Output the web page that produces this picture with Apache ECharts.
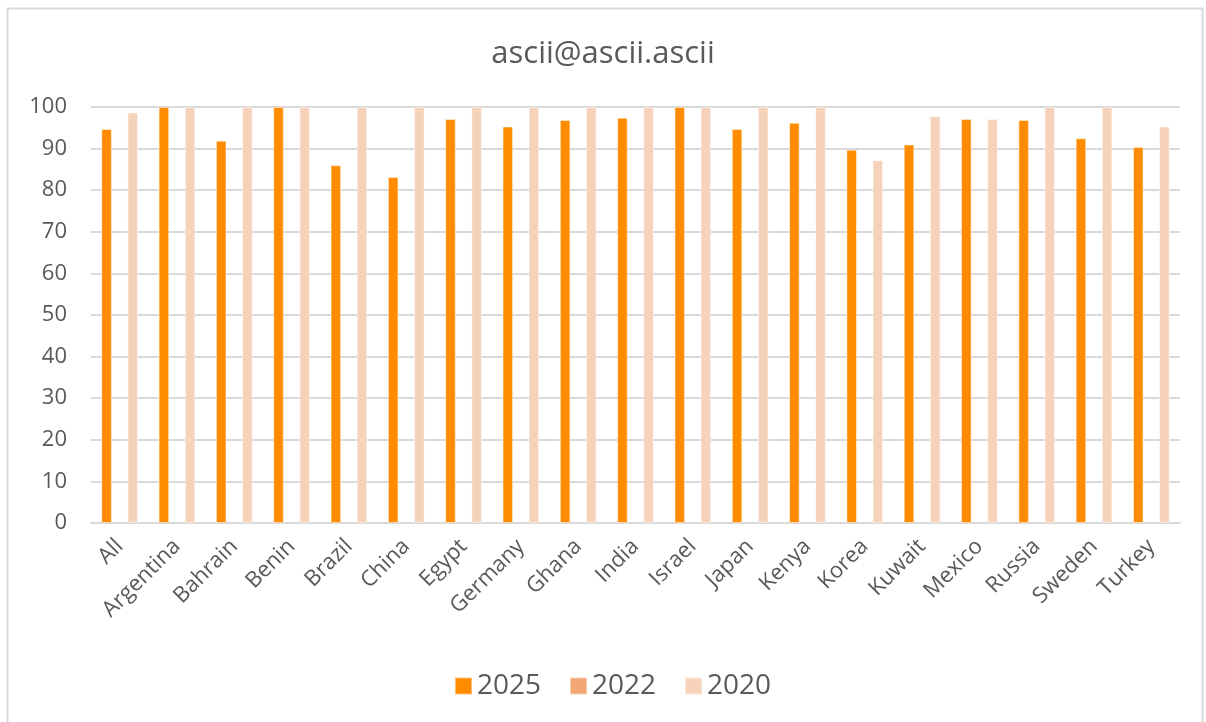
<!DOCTYPE html>
<html>
<head>
<meta charset="utf-8">
<script src="https://cdn.jsdelivr.net/npm/echarts@6/dist/echarts.min.js"></script>
<style>
  html, body { margin: 0; padding: 0; background: #fff; }
  #chart { width: 1206px; height: 722px; }
</style>
</head>
<body>
<div id="chart"></div>
<script>
// Country categories along the x axis
const categories = ['All', 'Argentina', 'Bahrain', 'Benin', 'Brazil', 'China', 'Egypt', 'Germany', 'Ghana', 'India',
  'Israel', 'Japan', 'Kenya', 'Korea', 'Kuwait', 'Mexico', 'Russia', 'Sweden', 'Turkey'];

// Series values per year (2022 has no reported values)
const values2025 = [94.7, 100, 91.9, 100, 86.0, 83.2, 97.1, 95.3, 96.9, 97.4,
  100, 94.7, 96.2, 89.7, 91.0, 97.1, 96.9, 92.5, 90.4];
const values2022 = [null, null, null, null, null, null, null, null, null, null,
  null, null, null, null, null, null, null, null, null];
const values2020 = [98.7, 100, 100, 100, 100, 100, 100, 100, 100, 100,
  100, 100, 100, 87.2, 97.8, 97.1, 100, 100, 95.3];

const seriesNames = ['2025', '2022', '2020'];
const seriesColors = ['#FF8C00', '#F1A673', '#F7D2BA'];

// Y axis ticks
const yMin = 0, yMax = 100, yStep = 10;

const textColor = '#595959';
const fontFamily = '"Open Sans", sans-serif';

const chart = echarts.init(document.getElementById('chart'), null, { renderer: 'canvas' });

const seriesData = [values2025, values2022, values2020];

chart.setOption({
  backgroundColor: '#ffffff',
  animation: false,
  title: {
    text: 'ascii@ascii.ascii',
    left: 'center',
    top: 34,
    textStyle: { color: textColor, fontSize: 31, fontWeight: 'normal', fontFamily: fontFamily }
  },
  legend: {
    data: seriesNames,
    top: 672,
    left: 454,
    padding: 0,
    itemWidth: 17,
    itemHeight: 17,
    itemGap: 28,
    icon: 'rect',
    textStyle: { color: textColor, fontSize: 28, fontFamily: fontFamily, padding: [0, 0, 0, 0] }
  },
  grid: { left: 91, right: 26, top: 107, bottom: 199, containLabel: false },
  xAxis: {
    type: 'category',
    data: categories,
    axisLine: { lineStyle: { color: '#d9d9d9', width: 2 } },
    axisTick: { show: false },
    axisLabel: {
      rotate: 45,
      interval: 0,
      margin: 20,
      color: textColor,
      fontSize: 22,
      fontFamily: fontFamily
    }
  },
  yAxis: {
    type: 'value',
    min: yMin,
    max: yMax,
    interval: yStep,
    axisLine: { show: false },
    axisTick: { show: false },
    splitLine: { lineStyle: { color: '#d9d9d9', width: 2 } },
    axisLabel: { color: textColor, fontSize: 22, fontFamily: fontFamily, margin: 24 }
  },
  series: seriesNames.map((name, i) => ({
    name: name,
    type: 'bar',
    data: seriesData[i],
    barGap: '24%',
    barCategoryGap: '36%',
    itemStyle: { color: seriesColors[i], borderColor: 'rgba(255,255,255,0.45)', borderWidth: 1 }
  })),
  graphic: [{
    type: 'rect',
    shape: { x: 7.5, y: 8.5, width: 1195, height: 730 },
    style: { fill: 'none', stroke: '#d9d9d9', lineWidth: 2 },
    silent: true,
    z: -1
  }]
});
</script>
</body>
</html>
